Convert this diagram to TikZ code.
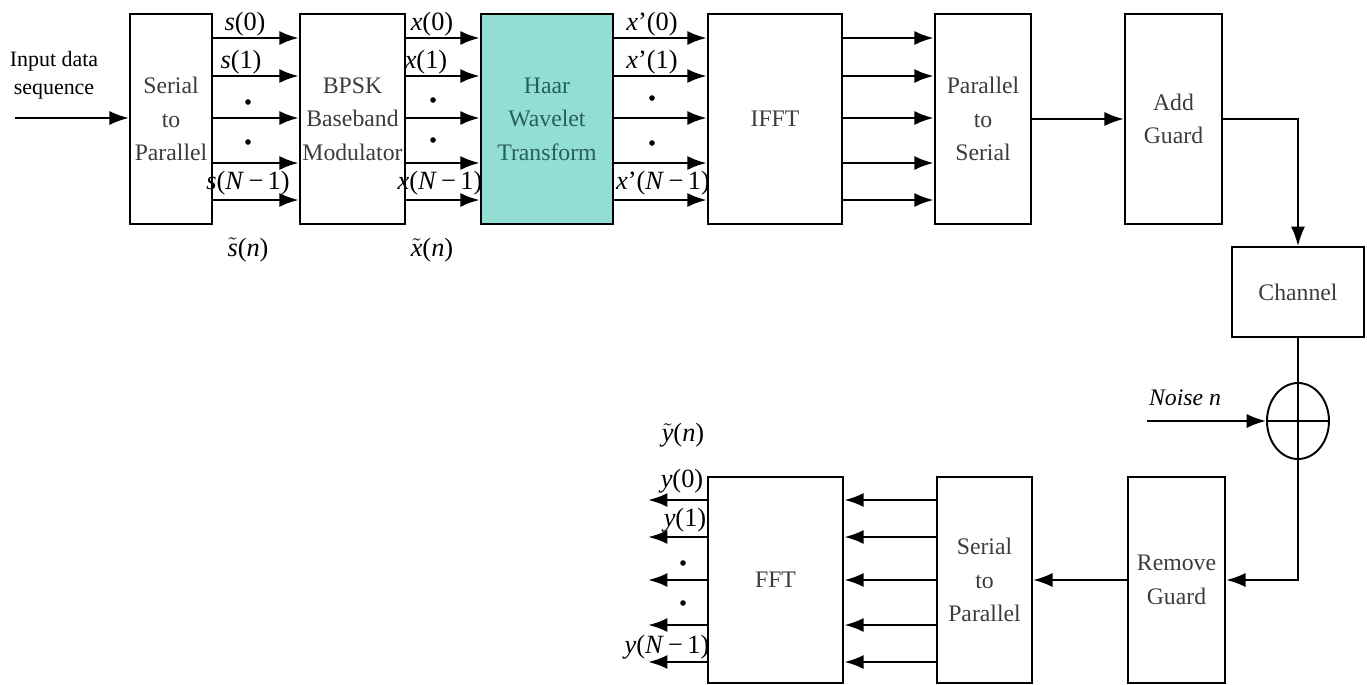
\documentclass[tikz,border=0pt]{standalone}
\usepackage{fontspec}
\setmainfont{Liberation Serif}
\usetikzlibrary{arrows.meta, shapes.geometric}
\definecolor{haarcyan}{RGB}{146,222,212}
\definecolor{haartext}{RGB}{40,95,90}
\definecolor{boxtext}{RGB}{60,60,60}
\newcommand{\sig}[1]{\textit{#1}}
\newcommand{\sigtil}[1]{$\tilde{\textit{#1}}$}

\begin{document}
\begin{tikzpicture}[x=0.02cm, y=-0.02cm,
    blk/.style={draw, line width=1.4pt, align=center, inner sep=0pt, text=boxtext,
      font=\fontsize{13.5}{19}\selectfont},
    bus/.style={-{Latex[length=11pt, width=8pt]}, line width=1.6pt},
    wire/.style={-{Latex[length=11pt, width=8pt]}, line width=1.1pt},
    lbl/.style={font=\fontsize{15}{16}\selectfont, inner sep=0pt},
    busdot/.style={circle, fill, inner sep=0pt, minimum size=3.2pt}]
  \useasboundingbox (0,0) rectangle (1367,684);

  % transmitter row
  \node[blk, minimum width=1.64cm, minimum height=4.2cm] (sp) at (171,119) {Serial\\to\\Parallel};
  \node[blk, minimum width=2.1cm, minimum height=4.2cm] (bpsk) at (352.5,119) {BPSK\\Baseband\\Modulator};
  \node[blk, fill=haarcyan, text=haartext, minimum width=2.64cm, minimum height=4.2cm] (haar) at (547,119) {Haar\\Wavelet\\Transform};
  \node[blk, minimum width=2.68cm, minimum height=4.2cm] (ifft) at (775,119) {IFFT};
  \node[blk, minimum width=1.92cm, minimum height=4.2cm] (ps) at (983,119) {Parallel\\to\\Serial};
  \node[blk, minimum width=1.94cm, minimum height=4.2cm] (guard) at (1173.5,119) {Add\\Guard};

  % channel and noise
  \node[blk, line width=1.2pt, minimum width=2.64cm, minimum height=1.8cm] (channel) at (1298,292) {Channel};
  \node[draw, ellipse, line width=1.1pt, minimum width=1.24cm, minimum height=1.52cm, inner sep=0pt] (sum) at (1298,421) {};
  \draw[line width=1.1pt] (sum.north) -- (sum.south) (sum.west) -- (sum.east);

  % receiver row
  \node[blk, minimum width=1.94cm, minimum height=4.12cm] (rguard) at (1176.5,580) {Remove\\Guard};
  \node[blk, minimum width=1.9cm, minimum height=4.12cm] (sp2) at (984.5,580) {Serial\\to\\Parallel};
  \node[blk, minimum width=2.7cm, minimum height=4.12cm] (fft) at (775.5,580) {FFT};

  \coordinate (in) at (15,118);
  \coordinate (noise) at (1147,421);
  \coordinate (yout) at (648,580);

  % connectors
  \draw[wire] (in) -- (in -| sp.west);
  \foreach \from/\to in {sp/bpsk, bpsk/haar, haar/ifft, ifft/ps}
    \foreach \y in {38,76,118,163,200}
      \draw[bus] (\from.east |- 0,\y) -- (\to.west |- 0,\y);
  \draw[wire] (ps.east) -- (guard.west);
  \draw[wire] (guard.east) -| (channel.north);
  \draw[line width=1.1pt] (channel.south) -- (sum.north);
  \draw[wire] (noise) -- (sum.west);
  \draw[wire] (sum.south) |- (rguard.east);
  \draw[wire] (rguard.west) -- (sp2.east);
  \foreach \y in {500,537,580,625,662} {
    \draw[bus] (sp2.west |- 0,\y) -- (fft.east |- 0,\y);
    \draw[bus] (fft.west |- 0,\y) -- (yout |- 0,\y);
  }

  % labels
  \node[lbl, align=center, font=\fontsize{12.5}{16}\selectfont] (inlbl) at (54,75) {Input data\\sequence};
  \node[lbl] (s0) at (245,24) {\sig{s}(0)};
  \node[lbl] (s1) at (241,62) {\sig{s}(1)};
  \node[lbl] (sN) at (248,183) {\sig{s}(\sig{N}\,−\,1)};
  \node[lbl] (stil) at (248,250) {\sigtil{s}(\sig{n})};
  \node[lbl] (x0) at (432,24) {\sig{x}(0)};
  \node[lbl] (x1) at (426,62) {\sig{x}(1)};
  \node[lbl] (xN) at (440,183) {\sig{x}(\sig{N}\,−\,1)};
  \node[lbl] (xtil) at (432,250) {\sigtil{x}(\sig{n})};
  \node[lbl] (xp0) at (652,24) {\sig{x}'(0)};
  \node[lbl] (xp1) at (652,62) {\sig{x}'(1)};
  \node[lbl] (xpN) at (663,183) {\sig{x}'(\sig{N}\,−\,1)};
  \node[lbl] (y0) at (682,481) {\sig{y}(0)};
  \node[lbl] (y1) at (685,520) {\sig{y}(1)};
  \node[lbl] (yN) at (667,647) {\sig{y}(\sig{N}\,−\,1)};
  \node[lbl] (ytil) at (683,435) {\sigtil{y}(\sig{n})};
  \node[lbl, font=\itshape\fontsize{13.5}{16}\selectfont] (noiselbl) at (1185,398) {Noise n};

  % bus dots
  \foreach \x/\ya/\yb in {248/102/142, 433/100/140, 652/98/143, 683/563/603} {
    \node[busdot] at (\x,\ya) {};
    \node[busdot] at (\x,\yb) {};
  }
\end{tikzpicture}
\end{document}
